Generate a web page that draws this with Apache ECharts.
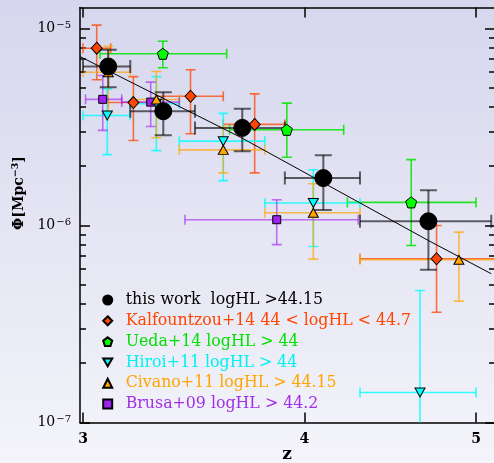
<!DOCTYPE html>
<html><head><meta charset="utf-8">
<script src="https://cdn.jsdelivr.net/npm/echarts@6/dist/echarts.min.js"></script>
<style>html,body{margin:0;padding:0;background:#fff}#c{width:494px;height:463px;}</style>
</head><body><div id="c"></div><script>
// ---- tick labels ----
const xTickLabels = [3, 4, 5];
const yTickDecades = [-7, -6, -5];

// ---- this work ----
const workName = 'this work  logHL >44.15';
const workZ = [3.10, 3.33, 3.69, 4.10, 4.70];
const workPhi = [6.41e-6, 3.80e-6, 3.13e-6, 1.74e-6, 1.05e-6];
const workZlo = [3.00, 3.19, 3.47, 3.90, 4.30];
const workZhi = [3.19, 3.47, 3.90, 4.30, 5.10];
const workPhiLo = [5.03e-6, 2.87e-6, 2.38e-6, 1.20e-6, 5.96e-7];
const workPhiHi = [7.80e-6, 4.75e-6, 3.91e-6, 2.27e-6, 1.51e-6];

// ---- Kalfountzou+14 ----
const kalName = 'Kalfountzou+14 44 < logHL < 44.7';
const kalZ = [3.054, 3.203, 3.45, 3.75, 4.75];
const kalPhi = [7.94e-6, 4.21e-6, 4.53e-6, 3.26e-6, 6.78e-7];
const kalZlo = [3.00, 3.10, 3.30, 3.60, 4.30];
const kalZhi = [3.11, 3.30, 3.60, 3.90, 5.30];
const kalPhiLo = [5.49e-6, 2.70e-6, 2.92e-6, 1.85e-6, 3.63e-7];
const kalPhiHi = [1.04e-5, 5.70e-6, 6.17e-6, 4.66e-6, 1.00e-6];

// ---- Ueda+14 ----
const uedaName = 'Ueda+14 logHL > 44';
const uedaZ = [3.328, 3.91, 4.596];
const uedaPhi = [7.44e-6, 3.06e-6, 1.31e-6];
const uedaZlo = [3.067, 3.63, 4.23];
const uedaZhi = [3.616, 4.21, 5.00];
const uedaPhiLo = [6.32e-6, 2.22e-6, 7.92e-7];
const uedaPhiHi = [8.62e-6, 4.18e-6, 2.16e-6];

// ---- Hiroi+11 ----
const hiroiName = 'Hiroi+11 logHL > 44';
const hiroiZ = [3.096, 3.30, 3.60, 4.047, 4.649];
const hiroiPhi = [3.62e-6, 4.15e-6, 2.68e-6, 1.30e-6, 1.42e-7];
const hiroiZlo = [3.00, 3.19, 3.40, 3.80, 4.30];
const hiroiZhi = [3.19, 3.40, 3.80, 4.30, 5.00];
const hiroiPhiLo = [2.29e-6, 2.40e-6, 1.69e-6, 7.82e-7, 5.0e-8];
const hiroiPhiHi = [4.94e-6, 5.70e-6, 3.71e-6, 1.92e-6, 4.68e-7];

// ---- Civano+11 ----
const civName = 'Civano+11 logHL > 44.15';
const civZ = [3.10, 3.30, 3.60, 4.047, 4.89];
const civPhi = [6.00e-6, 4.36e-6, 2.42e-6, 1.16e-6, 6.70e-7];
const civZlo = [3.00, 3.20, 3.40, 3.80, 4.30];
const civZhi = [3.19, 3.40, 3.80, 4.30, 5.30];
const civPhiLo = [3.76e-6, 2.79e-6, 1.85e-6, 6.75e-7, 4.13e-7];
const civPhiHi = [8.12e-6, 6.05e-6, 3.15e-6, 1.63e-6, 9.25e-7];

// ---- Brusa+09 ----
const brusaName = 'Brusa+09 logHL > 44.2';
const brusaZ = [3.078, 3.276, 3.859];
const brusaPhi = [4.37e-6, 4.23e-6, 1.07e-6];
const brusaZlo = [3.01, 3.155, 3.425];
const brusaZhi = [3.155, 3.40, 4.29];
const brusaPhiLo = [3.04e-6, 3.18e-6, 8.0e-7];
const brusaPhiHi = [5.77e-6, 5.34e-6, 1.35e-6];

// ---- fit line ----
const fitZ = [2.988, 3.68, 4.70, 5.10];
const fitPhi = [7.21e-6, 2.81e-6, 8.39e-7, 5.69e-7];

// =============================================
const lg = Math.log10;
const FONT = 'DejaVu Serif';
const PENT = 'path://M0,-10 L9.51,-3.09 L5.88,8.09 L-5.88,8.09 L-9.51,-3.09 Z';
const DTRI = 'path://M-10,0 L10,0 L0,17 Z';

const xMin = lg(3) - 3 / 1771.6;
const xMax = lg(3) + 411 / 1771.6;
const yMin = -7;
const yMax = -7 + 415 / 197;

function errSeries(id, Z, P, Zlo, Zhi, Plo, Phi, color, lw, capX, capY) {
  const data = Z.map((z, i) => [lg(z), lg(P[i]), lg(Zlo[i]), lg(Zhi[i]), lg(Plo[i]), lg(Phi[i])]);
  return {
    type: 'custom', name: id, clip: true, silent: true, z: 2,
    encode: { x: [0, 2, 3], y: [1, 4, 5] },
    data,
    renderItem(params, api) {
      const x = api.value(0), y = api.value(1);
      const pl = api.coord([api.value(2), y]);
      const pr = api.coord([api.value(3), y]);
      const pb = api.coord([x, api.value(4)]);
      const pt = api.coord([x, api.value(5)]);
      const st = { stroke: color, lineWidth: lw, fill: null };
      const L = (x1, y1, x2, y2) => ({ type: 'line', shape: { x1, y1, x2, y2 }, style: st });
      return {
        type: 'group',
        children: [
          L(pl[0], pl[1], pr[0], pr[1]),
          L(pb[0], pb[1], pt[0], pt[1]),
          L(pl[0], pl[1] - capX, pl[0], pl[1] + capX),
          L(pr[0], pr[1] - capX, pr[0], pr[1] + capX),
          L(pt[0] - capY, pt[1], pt[0] + capY, pt[1]),
          L(pb[0] - capY, pb[1], pb[0] + capY, pb[1])
        ]
      };
    }
  };
}
function markSeries(name, Z, P, symbol, size, color, z) {
  return {
    type: 'scatter', name, symbol, symbolSize: size, z: z || 3,
    itemStyle: { color, borderColor: '#000', borderWidth: 1, opacity: 1 },
    data: Z.map((v, i) => [lg(v), lg(P[i])])
  };
}

const series = [
  errSeries('e1', kalZ, kalPhi, kalZlo, kalZhi, kalPhiLo, kalPhiHi, 'rgba(255,69,0,0.75)', 1.6, 5, 5),
  errSeries('e2', uedaZ, uedaPhi, uedaZlo, uedaZhi, uedaPhiLo, uedaPhiHi, 'rgba(0,230,0,0.85)', 1.6, 5, 5),
  errSeries('e3', hiroiZ, hiroiPhi, hiroiZlo, hiroiZhi, hiroiPhiLo, hiroiPhiHi, 'rgba(0,255,255,0.8)', 1.6, 5, 5),
  errSeries('e4', civZ, civPhi, civZlo, civZhi, civPhiLo, civPhiHi, 'rgba(255,165,0,0.7)', 1.6, 5, 5),
  errSeries('e5', brusaZ, brusaPhi, brusaZlo, brusaZhi, brusaPhiLo, brusaPhiHi, 'rgba(160,32,240,0.6)', 1.6, 5, 5),
  errSeries('e0', workZ, workPhi, workZlo, workZhi, workPhiLo, workPhiHi, 'rgba(0,0,0,0.6)', 2, 6.5, 8.5),
  {
    type: 'line', name: 'fit', silent: true, z: 2, showSymbol: false, symbol: 'none',
    lineStyle: { color: '#000', width: 1 },
    data: fitZ.map((v, i) => [lg(v), lg(fitPhi[i])])
  },
  markSeries(kalName, kalZ, kalPhi, 'diamond', [11, 12], '#ff4500'),
  markSeries(uedaName, uedaZ, uedaPhi, PENT, 11, '#00ff00'),
  markSeries(hiroiName, hiroiZ, hiroiPhi, DTRI, [10, 9], '#00ffff'),
  markSeries(brusaName, brusaZ, brusaPhi, 'rect', 8, '#a020f0'),
  markSeries(civName, civZ, civPhi, 'triangle', [10, 9], '#ffa500'),
  markSeries(workName, workZ, workPhi, 'circle', 17, '#000', 4)
];

const yMinor = [];
for (const n of [-7, -6]) for (let k = 2; k <= 9; k++) yMinor.push(n + lg(k));
const yMajor = yTickDecades.slice();
const xMajor = xTickLabels.map(v => lg(v));

const baseX = { type: 'value', min: xMin, max: xMax, splitLine: { show: false } };
const baseY = { type: 'value', min: yMin, max: yMax, splitLine: { show: false } };
const tickLine = { color: '#000', width: 1.5 };

const option = {
  animation: false,
  backgroundColor: new echarts.graphic.LinearGradient(0, 0, 0, 1, [
    { offset: 0, color: '#d6d6ee' }, { offset: 1, color: '#f4f4fa' }
  ]),
  grid: { left: 80, right: 0, top: 7.5, bottom: 40.5, containLabel: false, outerBoundsMode: 'none' },
  xAxis: [
    Object.assign({}, baseX, {
      position: 'bottom',
      axisLine: { show: true, lineStyle: { color: '#000', width: 1.5 } },
      axisTick: { show: true, inside: true, length: 10, lineStyle: tickLine, customValues: xMajor },
      axisLabel: {
        show: true, margin: 10, customValues: xMajor, color: '#000',
        fontFamily: FONT, fontSize: 14, fontWeight: 'bold',
        formatter: v => String(Math.round(Math.pow(10, v)))
      },
      name: 'z', nameLocation: 'middle', nameGap: 24, nameMoveOverlap: false,
      nameTextStyle: { fontFamily: FONT, fontSize: 17, fontWeight: 'bold', color: '#000', lineHeight: 17 }
    }),
    Object.assign({}, baseX, {
      position: 'top',
      axisLine: { show: true, lineStyle: { color: '#000', width: 1.5 } },
      axisTick: { show: true, inside: true, length: 10, lineStyle: tickLine, customValues: xMajor },
      axisLabel: { show: false }
    })
  ],
  yAxis: [
    Object.assign({}, baseY, {
      position: 'left',
      axisLine: { show: true, lineStyle: { color: '#000', width: 1.5 } },
      axisTick: { show: true, inside: true, length: 10, lineStyle: tickLine, customValues: yMajor },
      axisLabel: {
        show: true, margin: 9, customValues: yMajor,
        formatter: v => '{b|10}{s|\u2212' + Math.round(-v) + '}',
        rich: {
          b: { fontFamily: FONT, fontSize: 14, color: '#000', lineHeight: 16 },
          s: { fontFamily: FONT, fontSize: 10, color: '#000', lineHeight: 10, verticalAlign: 'top', padding: [0, 0, 0, 1] }
        }
      }
    }),
    Object.assign({}, baseY, {
      position: 'left',
      axisLine: { show: false },
      axisTick: { show: true, inside: true, length: 6, lineStyle: tickLine, customValues: yMinor },
      axisLabel: { show: false }
    }),
    Object.assign({}, baseY, {
      position: 'right',
      axisLine: { show: false },
      axisTick: { show: true, inside: true, length: 9, lineStyle: tickLine, customValues: yMajor },
      axisLabel: { show: false }
    }),
    Object.assign({}, baseY, {
      position: 'right',
      axisLine: { show: false },
      axisTick: { show: true, inside: true, length: 5, lineStyle: tickLine, customValues: yMinor },
      axisLabel: { show: false }
    })
  ],
  legend: {
    orient: 'vertical', left: 102.2, top: 292, padding: 0, itemWidth: 9, itemHeight: 9, itemGap: 4.8,
    selectedMode: false,
    textStyle: { fontFamily: FONT, fontSize: 15.8, lineHeight: 15, padding: [0, 0, 0, 8.5] },
    data: [
      { name: workName, textStyle: { color: '#000000' } },
      { name: kalName, textStyle: { color: '#ff4500' } },
      { name: uedaName, textStyle: { color: '#00e000' } },
      { name: hiroiName, textStyle: { color: '#00f0f0' } },
      { name: civName, textStyle: { color: '#ffa500' } },
      { name: brusaName, textStyle: { color: '#a030e8' } }
    ]
  },
  graphic: [{
    type: 'text', x: 19, y: 193, rotation: Math.PI / 2,
    style: {
      text: '{b|\u03A6[Mpc}{s|\u22123}{b|]}',
      align: 'center', verticalAlign: 'middle',
      rich: {
        b: { fontFamily: FONT, fontSize: 14, fontWeight: 'bold', fill: '#000', lineHeight: 17 },
        s: { fontFamily: FONT, fontSize: 9.5, fontWeight: 'bold', fill: '#000', lineHeight: 10, verticalAlign: 'top' }
      }
    }
  }],
  series
};

const chart = echarts.init(document.getElementById('c'), null, { renderer: 'canvas' });
chart.setOption(option);
</script></body></html>
